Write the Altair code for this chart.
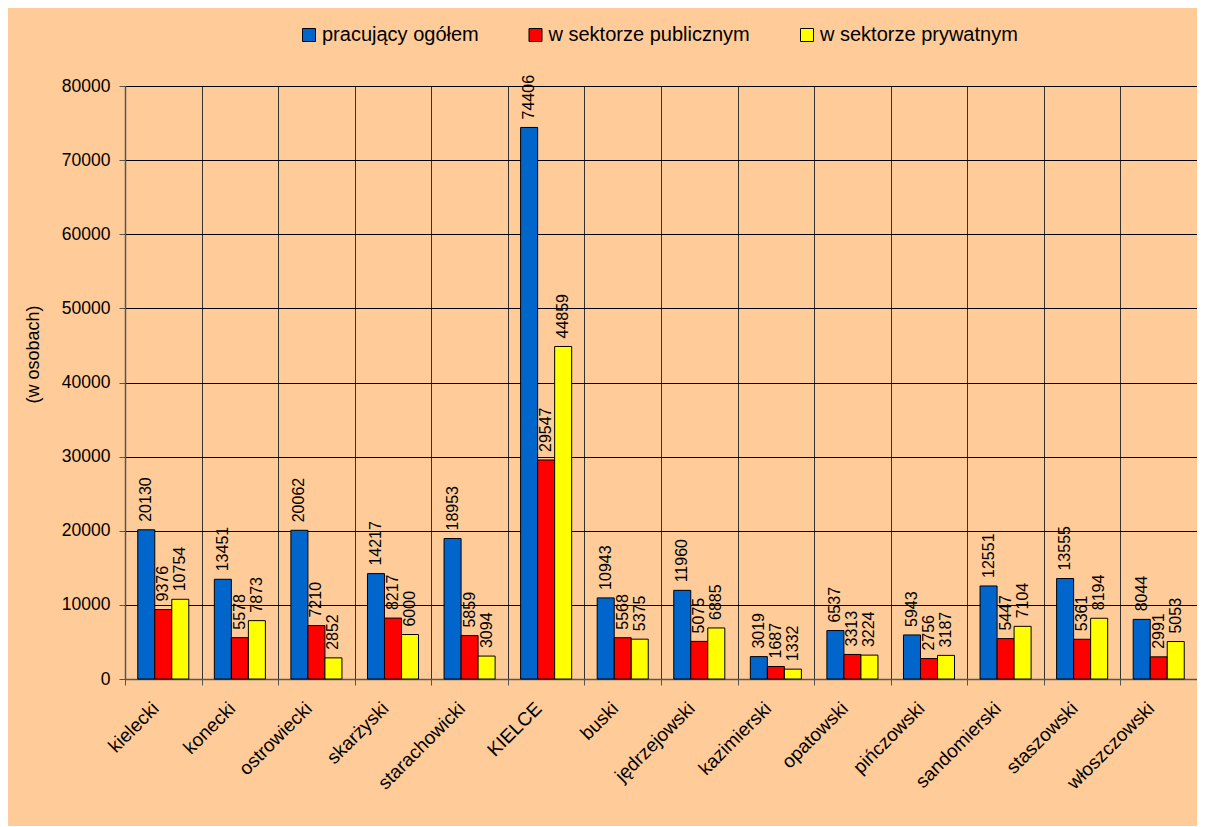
import altair as alt
import pandas as pd

categories = ["kielecki", "konecki", "ostrowiecki", "skarżyski", "starachowicki", "KIELCE",
              "buski", "jędrzejowski", "kazimierski", "opatowski", "pińczowski",
              "sandomierski", "staszowski", "włoszczowski"]
series = ["pracujący ogółem", "w sektorze publicznym", "w sektorze prywatnym"]
ogolem = [20130, 13451, 20062, 14217, 18953, 74406, 10943, 11960, 3019, 6537, 5943, 12551, 13555, 8044]
publiczny = [9376, 5578, 7210, 8217, 5859, 29547, 5568, 5075, 1687, 3313, 2756, 5447, 5361, 2991]
prywatny = [10754, 7873, 2852, 6000, 3094, 44859, 5375, 6885, 1332, 3224, 3187, 7104, 8194, 5053]
colors = ["#0066CC", "#FF0000", "#FFFF00"]

rows = []
for i, c in enumerate(categories):
    for s, vals in zip(series, [ogolem, publiczny, prywatny]):
        rows.append({"cat": c, "series": s, "value": vals[i]})
df = pd.DataFrame(rows)

FONT = "Liberation Sans"

base = alt.Chart(df).encode(
    x=alt.X("cat:N", sort=categories, title=None,
            scale=alt.Scale(paddingInner=0, paddingOuter=0),
            axis=alt.Axis(tickBand="extent", grid=True, gridColor="#333333", gridWidth=1,
                          labelAngle=-45, labelAlign="right", labelBaseline="middle",
                          labelPadding=20, labelOffset=-8, labelFontSize=19, labelColor="black",
                          tickSize=6, tickColor="#555555", domainColor="#555555",
                          domainWidth=1.5)),
    xOffset=alt.XOffset("series:N", sort=series,
                        scale=alt.Scale(paddingInner=0, paddingOuter=0.75)),
    y=alt.Y("value:Q", title="(w osobach)",
            scale=alt.Scale(domain=[0, 80000], nice=False),
            axis=alt.Axis(values=list(range(0, 80001, 10000)), format="d",
                          grid=True, gridColor="black", gridWidth=1,
                          labelFontSize=17.5, labelColor="black", labelPadding=9,
                          tickSize=6, tickColor="#555555", domainColor="#555555",
                          domainWidth=1.5,
                          titleFontSize=18, titleFontWeight="normal", titleColor="black",
                          titleX=-92, titleY=268, titleAngle=-90,
                          titleBaseline="middle", titleAlign="center")),
)

bars = base.mark_bar(stroke="black", strokeWidth=1).encode(
    color=alt.Color("series:N", sort=series,
                    scale=alt.Scale(domain=series, range=colors),
                    legend=alt.Legend(title=None, orient="none", direction="horizontal",
                                      columns=3, legendX=174, legendY=-61,
                                      symbolType="square", symbolSize=169,
                                      symbolStrokeColor="black", symbolStrokeWidth=1,
                                      symbolOpacity=1,
                                      labelFontSize=20, labelColor="black",
                                      labelOffset=3, columnPadding=46.5, padding=0,
                                      labelLimit=400))
)

labels = base.mark_text(angle=270, align="left", baseline="middle", dx=8,
                        fontSize=16, font=FONT, color="black").encode(
    text=alt.Text("value:Q", format="d")
)

chart = alt.layer(bars, labels).properties(
    width=1072, height=593,
    padding={"left": 117, "top": 78, "right": 0, "bottom": 147},
    autosize=alt.AutoSizeParams(type="none"),
    background="#FFCC99",
).configure_view(
    fill="white", stroke="#777777", strokeWidth=1.5
).configure(
    font=FONT
)

chart.save("out.html", embed_options={"renderer": "svg", "actions": False})
